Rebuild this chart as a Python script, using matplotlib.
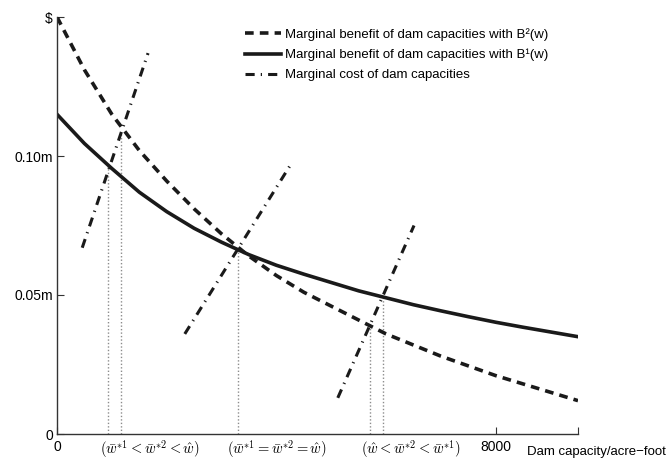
import numpy as np
import matplotlib.pyplot as plt

plt.rcParams['font.family'] = ['Liberation Sans', 'DejaVu Sans']
plt.rcParams['mathtext.fontset'] = 'cm'

# marginal benefit with B2(w) (dashed)
b2_x = [0, 500, 1000, 1500, 2000, 2500, 3000, 3500, 4000, 4500,
        5000, 5500, 6000, 6500, 7000, 7500, 8000, 8500, 9000, 9500]
b2_y = [0.150, 0.131, 0.115, 0.102, 0.091, 0.081, 0.072, 0.064, 0.057, 0.051,
        0.046, 0.041, 0.036, 0.032, 0.028, 0.0245, 0.021, 0.018, 0.015, 0.012]

# marginal benefit with B1(w) (solid)
b1_x = [0, 500, 1000, 1500, 2000, 2500, 3000, 3500, 4000, 4500,
        5000, 5500, 6000, 6500, 7000, 7500, 8000, 8500, 9000, 9500]
b1_y = [0.115, 0.1045, 0.0955, 0.087, 0.080, 0.074, 0.069, 0.0645, 0.0607, 0.0575,
        0.0545, 0.0515, 0.049, 0.0465, 0.0443, 0.0422, 0.0402, 0.0384, 0.0367, 0.035]

# marginal cost segments (dash-dot)
cost_x = [[460, 1660], [2330, 4280], [5120, 6510]]
cost_y = [[0.067, 0.137], [0.036, 0.0975], [0.013, 0.075]]

# vertical dotted guides
guide_x = [930, 1170, 3300, 5700, 5940]
guide_top = [0.096, 0.108, 0.066, 0.038, 0.049]

case_x = [1700, 4000, 6450]
case_labels = [r'$(\bar{w}^{*1} < \bar{w}^{*2} < \hat{w})$',
               r'$(\bar{w}^{*1} = \bar{w}^{*2} = \hat{w})$',
               r'$(\hat{w} < \bar{w}^{*2} < \bar{w}^{*1})$']

fig = plt.figure(figsize=(6.7, 4.62), dpi=100)
ax = fig.add_axes([57 / 670, 28 / 462, 521 / 670, 417 / 462])

for gx, gt in zip(guide_x, guide_top):
    ax.plot([gx, gx], [0, gt], color='0.55', lw=1, linestyle=(0, (1, 1.5)))

ax.plot(b2_x, b2_y, color='#1a1a1a', lw=2.6, linestyle=(0, (2.4, 1.7)),
        label='Marginal benefit of dam capacities with B²(w)')
ax.plot(b1_x, b1_y, color='#1a1a1a', lw=2.6, linestyle='-',
        label='Marginal benefit of dam capacities with B¹(w)')
for i, (cx, cy) in enumerate(zip(cost_x, cost_y)):
    ax.plot(cx, cy, color='#1a1a1a', lw=2.2, linestyle=(0, (3, 2, 0.4, 2)),
            label='Marginal cost of dam capacities' if i == 0 else None)

ax.set_xlim(0, 9500)
ax.set_ylim(0, 0.15)
ax.set_xticks([0, 8000, 9500])
ax.set_xticklabels(['0', '8000', ''])
ax.set_yticks([0, 0.05, 0.10, 0.15])
ax.set_yticklabels(['0', '0.05m', '0.10m', '$'])
ax.tick_params(direction='in', length=5, labelsize=10, color='#333333')
ax.tick_params(axis='y', pad=3)
ax.tick_params(axis='x', pad=4)
ax.spines['top'].set_visible(False)
ax.spines['right'].set_visible(False)
for s in ['left', 'bottom']:
    ax.spines[s].set_color('#333333')
    ax.spines[s].set_linewidth(1)

fig.text(527 / 670, 1 - 452 / 462, 'Dam capacity/acre−foot', ha='left', va='center', fontsize=9.5)
for cx, lab in zip(case_x, case_labels):
    ax.text(cx, -0.0053, lab, ha='center', va='center', fontsize=10.5)

fig.legend(loc='upper left', bbox_to_anchor=(245 / 670, 1 - 28 / 462), frameon=False,
           fontsize=9.5, handlelength=2.7, handletextpad=0.3, borderpad=0,
           borderaxespad=0, labelspacing=0.6)

fig.savefig('out.png', dpi=100)
